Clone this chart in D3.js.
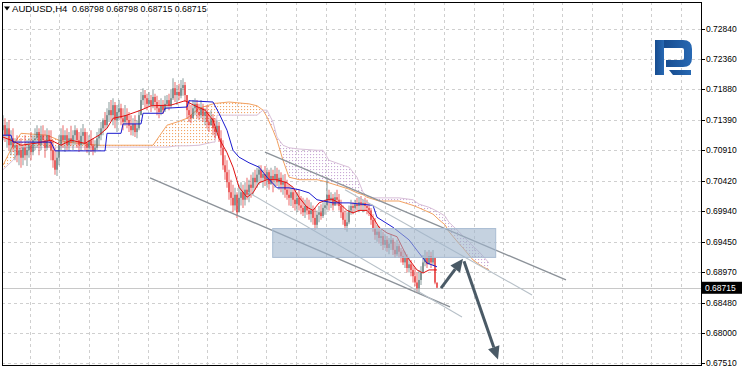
<!DOCTYPE html>
<html>
<head>
<meta charset="utf-8">
<script src="https://cdn.jsdelivr.net/npm/d3@7"></script>
<style>
  body { margin: 0; background: #fff; }
  svg { display: block; }
  text { font-family: "Liberation Sans", Arial, sans-serif; }
</style>
</head>
<body>
<svg id="chart" width="743" height="368"></svg>
<script>
// ---- data ----
const symbol = "AUDUSD,H4";
const lastQuote = ["0.68798", "0.68798", "0.68715", "0.68715"];
const lastPrice = 0.68715;
const priceTicks = [0.72840, 0.72360, 0.71880, 0.71390, 0.70910, 0.70420, 0.69940, 0.69450, 0.68970, 0.68480, 0.68000, 0.67510];

const firstOpen = .7123;
const highs = [
  .7147,.7142,.7136,.7139,.7123,.7126,.7110,.7115,.7107,.7110,.7099,.7115,.7107,.7110,.7120,.7115,.7126,.7131,.7126,.7130,
  .7131,.7123,.7126,.7123,.7123,.7107,.7095,.7091,.7115,.7126,.7131,.7123,.7126,.7120,.7130,.7123,.7131,.7126,.7120,.7126,
  .7133,.7126,.7120,.7115,.7123,.7110,.7107,.7120,.7126,.7136,.7142,.7152,.7158,.7168,.7171,.7174,.7168,.7163,.7171,.7165,
  .7158,.7163,.7158,.7152,.7147,.7142,.7147,.7139,.7155,.7184,.7190,.7187,.7181,.7184,.7179,.7187,.7181,.7178,.7171,.7174,
  .7171,.7178,.7179,.7181,.7187,.7206,.7200,.7195,.7197,.7203,.7206,.7200,.7179,.7171,.7163,.7171,.7174,.7171,.7165,.7171,
  .7165,.7158,.7162,.7152,.7155,.7149,.7142,.7139,.7136,.7123,.7107,.7083,.7075,.7060,.7044,.7036,.7031,.7024,.7036,.7040,
  .7036,.7040,.7047,.7044,.7052,.7056,.7060,.7063,.7067,.7067,.7060,.7066,.7063,.7060,.7063,.7060,.7066,.7063,.7060,.7056,
  .7052,.7053,.7044,.7037,.7034,.7031,.7028,.7024,.7028,.7018,.7015,.7012,.7015,.7012,.7008,.7003,.6999,.6995,.7002,.7005,
  .7008,.7012,.7048,.7028,.7024,.7021,.7024,.7028,.7021,.7012,.7003,.6995,.6992,.7003,.7012,.7008,.7012,.7015,.7016,.7018,
  .7012,.7015,.7012,.7007,.6999,.6989,.6983,.6972,.6970,.6964,.6961,.6957,.6954,.6951,.6956,.6951,.6945,.6948,.6942,.6935,
  .6932,.6929,.6925,.6919,.6916,.6908,.6903,.6896,.6900,.6906,.6924,.6932,.6929,.6932,.6929,.6932,.6919,.68798
];
const lows = [
  .7107,.7104,.7095,.7091,.7083,.7088,.7075,.7072,.7067,.7063,.7067,.7075,.7066,.7079,.7075,.7083,.7091,.7095,.7083,.7091,
  .7099,.7079,.7091,.7095,.7075,.7063,.7052,.7050,.7067,.7091,.7095,.7088,.7091,.7091,.7098,.7091,.7099,.7095,.7088,.7091,
  .7099,.7091,.7087,.7083,.7088,.7083,.7087,.7091,.7098,.7107,.7115,.7123,.7126,.7136,.7139,.7131,.7126,.7120,.7139,.7131,
  .7123,.7130,.7126,.7120,.7115,.7114,.7112,.7110,.7123,.7147,.7163,.7158,.7155,.7162,.7152,.7158,.7155,.7147,.7142,.7147,
  .7149,.7152,.7158,.7155,.7158,.7171,.7168,.7163,.7171,.7174,.7178,.7168,.7142,.7136,.7134,.7142,.7147,.7142,.7139,.7142,
  .7136,.7131,.7126,.7120,.7130,.7115,.7110,.7114,.7104,.7083,.7060,.7044,.7031,.7012,.7003,.6992,.6995,.6983,.6992,.7003,
  .6999,.7003,.7012,.7008,.7015,.7020,.7028,.7031,.7036,.7040,.7031,.7034,.7031,.7028,.7036,.7024,.7031,.7034,.7028,.7024,
  .7020,.7015,.7012,.7003,.7002,.6999,.6995,.6992,.6995,.6989,.6986,.6983,.6988,.6980,.6976,.6972,.6964,.6967,.6976,.6980,
  .6983,.6988,.6995,.6995,.6999,.6995,.7002,.7003,.6995,.6983,.6972,.6964,.6961,.6973,.6988,.6989,.6992,.6995,.6992,.6995,
  .6992,.6994,.6989,.6986,.6972,.6961,.6948,.6945,.6942,.6938,.6932,.6935,.6929,.6925,.6932,.6924,.6919,.6922,.6919,.6912,
  .6908,.6903,.6896,.6896,.6890,.6880,.6874,.6865,.6863,.6876,.6896,.6906,.6903,.6909,.6903,.6908,.6877,.68715
];
const closes = [
  .7131,.7115,.7126,.7099,.7110,.7095,.7099,.7083,.7091,.7079,.7095,.7083,.7091,.7099,.7088,.7107,.7110,.7120,.7099,.7115,
  .7107,.7095,.7115,.7107,.7091,.7075,.7060,.7079,.7099,.7115,.7107,.7115,.7099,.7110,.7104,.7115,.7123,.7107,.7099,.7114,
  .7120,.7102,.7095,.7107,.7099,.7091,.7095,.7110,.7115,.7126,.7139,.7131,.7147,.7155,.7147,.7163,.7139,.7152,.7158,.7142,
  .7136,.7147,.7139,.7130,.7123,.7133,.7120,.7126,.7147,.7171,.7179,.7174,.7165,.7171,.7163,.7176,.7168,.7158,.7152,.7163,
  .7155,.7165,.7171,.7162,.7174,.7190,.7179,.7184,.7178,.7190,.7195,.7179,.7155,.7147,.7142,.7158,.7165,.7152,.7147,.7158,
  .7146,.7152,.7136,.7131,.7142,.7126,.7120,.7130,.7110,.7095,.7067,.7056,.7040,.7024,.7015,.7003,.7020,.6992,.7015,.7024,
  .7012,.7028,.7020,.7036,.7031,.7047,.7040,.7052,.7060,.7047,.7053,.7044,.7056,.7037,.7050,.7044,.7053,.7040,.7047,.7036,
  .7040,.7028,.7020,.7015,.7024,.7012,.7005,.7015,.7003,.6999,.6992,.7002,.6995,.6989,.6995,.6983,.6972,.6988,.6992,.6986,
  .6999,.7003,.7020,.7012,.7015,.7003,.7016,.7012,.7002,.6992,.6980,.6970,.6976,.6995,.7002,.6999,.7005,.7002,.7008,.7003,
  .7007,.7002,.6999,.6995,.6980,.6967,.6956,.6961,.6951,.6954,.6940,.6948,.6935,.6942,.6948,.6932,.6925,.6938,.6929,.6922,
  .6912,.6919,.6903,.6909,.6900,.6890,.6880,.6871,.6884,.6896,.6912,.6919,.6909,.6922,.6912,.6919,.68798,.68715
];

// Ichimoku lines, [bar index, price]
const tenkan = [
  [0,.7112],[4,.7107],[9,.7099],[16,.7102],[24,.7107],[29,.7099],[34,.7107],[41,.7102],[48,.7115],[52,.7126],
  [55,.7142],[61,.7146],[69,.7155],[74,.7162],[84,.7163],[91,.7170],[96,.7162],[101,.7155],[105,.7139],[108,.7110],
  [112,.7087],[115,.7064],[118,.7032],[122,.7016],[125,.7023],[128,.7039],[132,.7044],[137,.7044],[142,.7039],[145,.7032],
  [148,.7016],[152,.7000],[155,.6995],[158,.7007],[162,.7012],[165,.7012],[168,.7007],[172,.6995],[175,.6991],[178,.6995],
  [182,.6995],[185,.6984],[188,.6968],[192,.6959],[197,.6953],[202,.6921],[207,.6900],[210,.6895],[213,.6900],[217,.6900]
];
const kijun = [
  [0,.7115],[4,.7115],[5,.7104],[24,.7104],[26,.7090],[51,.7090],[52,.7118],[59,.7118],[60,.7133],[69,.7133],
  [70,.7150],[80,.7150],[81,.7158],[92,.7160],[93,.7170],[105,.7168],[108,.7150],[112,.7123],[115,.7091],[118,.7080],
  [123,.7071],[128,.7064],[132,.7048],[137,.7031],[143,.7031],[148,.7028],[153,.7023],[157,.7012],[165,.7007],[173,.7007],
  [185,.7003],[187,.6984],[195,.6968],[203,.6948],[208,.6927],[212,.6911],[217,.6905]
];
// Senkou spans, shifted 26 bars ahead
const cloudIdx = [0,5,9,22,28,32,48,75,82,87,92,98,105,106,107,113,123,127,130,132,135,137,140,143,148,157,160,163,170,173,
  177,180,182,185,188,198,205,208,213,215,218,221,223,228,230,235,238,240,243];
const spanA = [.7067,.7099,.7118,.7115,.7107,.7104,.7099,.7099,.7131,.7136,.7142,.7158,.7165,.7166,.7166,.7168,.7165,.7162,.7155,.7144,
  .7123,.7107,.7075,.7048,.7044,.7044,.7042,.7039,.7032,.7029,.7023,.7020,.7016,.7013,.7010,.7010,.7003,.6999,.6992,.6989,
  .6980,.6972,.6961,.6942,.6935,.6916,.6909,.6905,.6900];
const spanB = [.7060,.7075,.7095,.7096,.7096,.7096,.7096,.7096,.7096,.7098,.7098,.7099,.7104,.7104,.7147,.7147,.7147,.7147,.7155,.7155,
  .7136,.7112,.7099,.7095,.7093,.7091,.7091,.7075,.7067,.7064,.7048,.7024,.7018,.7015,.7015,.7015,.7012,.7005,.7000,.6997,
  .6992,.6986,.6976,.6961,.6954,.6938,.6929,.6922,.6911];

// drawn objects: [bar from, price from, bar to, price to]
const channelLines = [
  { pts: [73.5, .7047, 223.5, .6841], dark: true },
  { pts: [122.5, .7024, 229.5, .6825], dark: false },
  { pts: [131, .7088, 281.5, .6884], dark: true },
  { pts: [171, .7028, 264.5, .6860], dark: false }
];
const zone = { from: 134.85, to: 246.35, top: .6966, bottom: .6920 };
const arrows = [
  [219, .6871, 230, .6918],
  [230.5, .6914, 247.5, .6757]
];

// ---- layout ----
const W = 743, H = 368;
const frame = { left: 2, top: 2, right: 701, bottom: 365 };
const svg = d3.select("#chart");

const x = d3.scaleLinear().domain([0, 349]).range([3, 701]);
const y = d3.scaleLinear().domain([0.67510, 0.72840]).range([363.3, 29.3]);

const defs = svg.append("defs");
defs.append("clipPath").attr("id", "plotClip")
  .append("rect")
  .attr("x", frame.left).attr("y", frame.top)
  .attr("width", frame.right - frame.left).attr("height", frame.bottom - frame.top);

// MT4 draws the cloud as a sparse dot hatch
function dotPattern(id, color) {
  const p = defs.append("pattern").attr("id", id)
    .attr("patternUnits", "userSpaceOnUse").attr("width", 3).attr("height", 3);
  p.append("rect").attr("x", 1).attr("y", 1).attr("width", 1.1).attr("height", 1.1).attr("fill", color);
}
dotPattern("dotsUp", "#f2a566");
dotPattern("dotsDown", "#caa8d6");

const logoGrad = defs.append("linearGradient").attr("id", "logoGrad")
  .attr("x1", 0).attr("x2", 1).attr("y1", 0).attr("y2", 0);
logoGrad.append("stop").attr("offset", 0).attr("stop-color", "#174c8f");
logoGrad.append("stop").attr("offset", 1).attr("stop-color", "#2869b3");

svg.append("rect").attr("width", W).attr("height", H).attr("fill", "#fff");

const plot = svg.append("g").attr("clip-path", "url(#plotClip)");

// grid
const gridX = d3.range(1, 24).map(k => 29.6 * k);
plot.append("g").selectAll("line").data(gridX).join("line")
  .attr("x1", d => Math.round(d) + 0.5).attr("x2", d => Math.round(d) + 0.5)
  .attr("y1", frame.top).attr("y2", frame.bottom)
  .attr("stroke", "#cfcfcf").attr("stroke-dasharray", "3,3");
plot.append("g").selectAll("line").data(priceTicks).join("line")
  .attr("x1", frame.left).attr("x2", frame.right)
  .attr("y1", d => Math.round(y(d)) + 0.5).attr("y2", d => Math.round(y(d)) + 0.5)
  .attr("stroke", "#cfcfcf").attr("stroke-dasharray", "3,3");

// bid line
plot.append("line")
  .attr("x1", frame.left).attr("x2", frame.right)
  .attr("y1", Math.round(y(lastPrice)) + 0.5).attr("y2", Math.round(y(lastPrice)) + 0.5)
  .attr("stroke", "#c8c8c8");

// cloud
const cloud = cloudIdx.map((i, k) => ({ i, a: spanA[k], b: spanB[k] }));
plot.append("path").datum(cloud)
  .attr("fill", "url(#dotsUp)")
  .attr("d", d3.area().x(d => x(d.i)).y1(d => y(d.a)).y0(d => Math.max(y(d.a), y(d.b))));
plot.append("path").datum(cloud)
  .attr("fill", "url(#dotsDown)")
  .attr("d", d3.area().x(d => x(d.i)).y1(d => y(d.b)).y0(d => Math.max(y(d.a), y(d.b))));
plot.append("path").datum(cloud)
  .attr("fill", "none").attr("stroke", "#f2a262").attr("stroke-width", 1)
  .attr("d", d3.line().x(d => x(d.i)).y(d => y(d.a)));
plot.append("path").datum(cloud)
  .attr("fill", "none").attr("stroke", "#d8bfd8").attr("stroke-width", 1)
  .attr("d", d3.line().x(d => x(d.i)).y(d => y(d.b)));

// bars: soft full range line plus a solid open-close core
const bars = closes.map((c, i) => ({
  i, o: i ? closes[i - 1] : firstOpen, h: highs[i], l: lows[i], c
}));
const barColor = d => d.c >= d.o ? "#5a7372" : "#e42a2a";
const barG = plot.append("g");
barG.selectAll("line").data(bars).join("line")
  .attr("x1", d => x(d.i)).attr("x2", d => x(d.i))
  .attr("y1", d => y(d.h)).attr("y2", d => y(d.l))
  .attr("stroke", barColor).attr("stroke-opacity", 0.55).attr("stroke-width", 1.3);
barG.selectAll("rect").data(bars).join("rect")
  .attr("x", d => x(d.i) - 0.6).attr("width", 1.2)
  .attr("y", d => y(Math.max(d.o, d.c)))
  .attr("height", d => Math.max(1, Math.abs(y(d.o) - y(d.c))))
  .attr("fill", barColor);

// tenkan / kijun
plot.append("path").datum(tenkan)
  .attr("fill", "none").attr("stroke", "#e01010").attr("stroke-width", 1)
  .attr("d", d3.line().x(d => x(d[0])).y(d => y(d[1])));
plot.append("path").datum(kijun)
  .attr("fill", "none").attr("stroke", "#1a1ad0").attr("stroke-width", 1)
  .attr("d", d3.line().x(d => x(d[0])).y(d => y(d[1])));

// channel lines
plot.append("g").selectAll("line").data(channelLines).join("line")
  .attr("x1", d => x(d.pts[0])).attr("y1", d => y(d.pts[1]))
  .attr("x2", d => x(d.pts[2])).attr("y2", d => y(d.pts[3]))
  .attr("stroke", d => d.dark ? "#8c9299" : "#b7c0c8")
  .attr("stroke-width", d => d.dark ? 1.4 : 1.1);

// zone rectangle
plot.append("rect")
  .attr("x", x(zone.from)).attr("y", y(zone.top))
  .attr("width", x(zone.to) - x(zone.from)).attr("height", y(zone.bottom) - y(zone.top))
  .attr("fill", "#9fb4cb").attr("fill-opacity", 0.6)
  .attr("stroke", "#a9bcd2");

// arrows
const arrowColor = "#4a5a66";
arrows.forEach(a => {
  const x1 = x(a[0]), y1 = y(a[1]), x2 = x(a[2]), y2 = y(a[3]);
  const ang = Math.atan2(y2 - y1, x2 - x1);
  const len = 13, half = 6;
  const bx = x2 - len * Math.cos(ang), by = y2 - len * Math.sin(ang);
  plot.append("line")
    .attr("x1", x1).attr("y1", y1).attr("x2", bx).attr("y2", by)
    .attr("stroke", arrowColor).attr("stroke-width", 3);
  plot.append("path")
    .attr("d", `M${x2},${y2}L${bx + half * Math.sin(ang)},${by - half * Math.cos(ang)}L${bx - half * Math.sin(ang)},${by + half * Math.cos(ang)}Z`)
    .attr("fill", arrowColor);
});

// frame
svg.append("rect")
  .attr("x", frame.left + 0.5).attr("y", frame.top + 0.5)
  .attr("width", frame.right - frame.left).attr("height", frame.bottom - frame.top)
  .attr("fill", "none").attr("stroke", "#000");

// right price axis
const axisG = svg.append("g");
axisG.selectAll("line").data(priceTicks).join("line")
  .attr("x1", frame.right + 0.5).attr("x2", frame.right + 4)
  .attr("y1", d => Math.round(y(d)) + 0.5).attr("y2", d => Math.round(y(d)) + 0.5)
  .attr("stroke", "#000");
axisG.selectAll("text").data(priceTicks).join("text")
  .attr("x", 706).attr("y", d => y(d) + 3)
  .attr("font-size", 8.5).attr("fill", "#000")
  .text(d => d.toFixed(5));

// current price tag
const tagY = y(lastPrice);
svg.append("rect").attr("x", frame.right + 1).attr("y", tagY - 6)
  .attr("width", 40).attr("height", 12).attr("fill", "#000");
svg.append("text").attr("x", 705).attr("y", tagY + 3)
  .attr("font-size", 8.5).attr("fill", "#fff").text(lastPrice.toFixed(5));

// title
svg.append("path").attr("d", "M4,6.5H10L7,10.5Z").attr("fill", "#000");
svg.append("text").attr("x", 12).attr("y", 12)
  .attr("font-size", 9.6).attr("fill", "#000").text(symbol);
svg.append("text").attr("x", 72).attr("y", 12)
  .attr("font-size", 8.8).attr("fill", "#000").text(lastQuote.join(" "));

// logo
const logo = svg.append("g").attr("transform", "translate(655,40)").attr("fill", "url(#logoGrad)");
logo.append("rect").attr("x", 0).attr("y", 0).attr("width", 9).attr("height", 35);
logo.append("path").attr("d", "M9,0H28Q37,0 37,9V18Q37,27 28,27H11V20H27Q29,20 29,18V10Q29,8 27,8H9Z");
logo.append("path").attr("d", "M14,30H36V35H18Z");
</script>
</body>
</html>
